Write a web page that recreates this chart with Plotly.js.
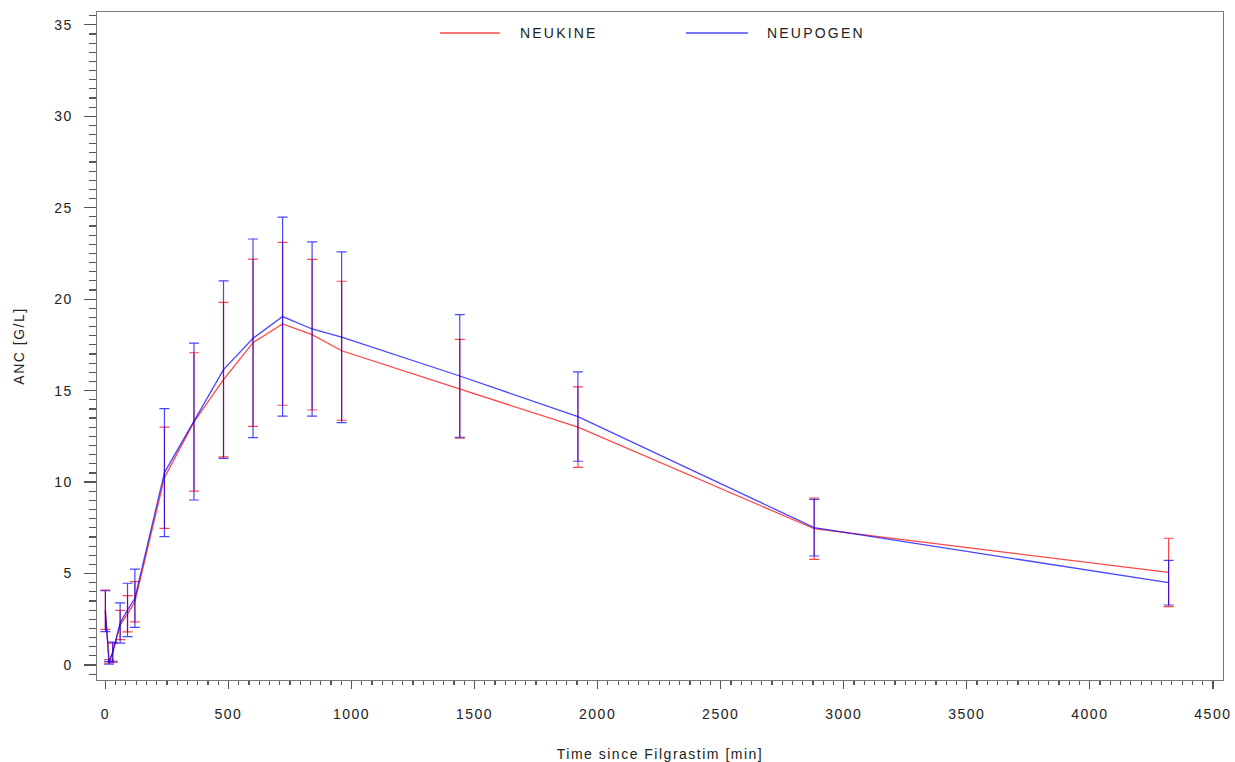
<!DOCTYPE html>
<html>
<head>
<meta charset="utf-8">
<script src="https://cdn.plot.ly/plotly-3.0.1.min.js"></script>
<style>
  html, body { margin: 0; padding: 0; background: #fff; }
  #chart { width: 1235px; height: 762px; }
  .xtick text, .ytick text, .g-xtitle text, .g-ytitle text { letter-spacing: 1.5px; }
  .annotation-text { letter-spacing: 2.2px; }
</style>
</head>
<body>
<div id="chart"></div>
<script>
// Time points (min)
const timeMin = [0, 15, 30, 60, 90, 120, 240, 360, 480, 600, 720, 840, 960, 1440, 1920, 2880, 4320];

// NEUKINE mean ANC [G/L] and SD
const neukineMean = [3.02, 0.2, 0.7, 2.19, 2.8, 3.46, 10.24, 13.29, 15.6, 17.62, 18.65, 18.06, 17.18, 15.1, 13.0, 7.45, 5.06];
const neukineSD   = [1.07, 0.1, 0.5, 0.8, 0.99, 1.1, 2.77, 3.78, 4.22, 4.57, 4.45, 4.12, 3.8, 2.7, 2.2, 1.68, 1.87];

// NEUPOGEN mean ANC [G/L] and SD
const neupogenMean = [2.94, 0.12, 0.7, 2.3, 3.01, 3.65, 10.52, 13.31, 16.15, 17.86, 19.05, 18.37, 17.92, 15.8, 13.58, 7.51, 4.5];
const neupogenSD   = [1.12, 0.08, 0.55, 1.1, 1.46, 1.59, 3.5, 4.29, 4.85, 5.43, 5.44, 4.76, 4.67, 3.35, 2.44, 1.55, 1.22];

const seriesNames = ['NEUKINE', 'NEUPOGEN'];
const xTitle = 'Time since Filgrastim [min]';
const yTitle = 'ANC [G/L]';

const red = 'rgba(255,0,0,0.72)';
const blue = 'rgba(0,0,255,0.72)';
const font = { family: 'Liberation Sans, Arial, sans-serif', size: 14, color: '#222' };

const traces = [
  {
    x: timeMin, y: neukineMean, name: seriesNames[0], type: 'scatter', mode: 'lines',
    line: { color: red, width: 1.3 },
    error_y: { type: 'data', array: neukineSD, visible: true, color: red, thickness: 1.2, width: 5 }
  },
  {
    x: timeMin, y: neupogenMean, name: seriesNames[1], type: 'scatter', mode: 'lines',
    line: { color: blue, width: 1.3 },
    error_y: { type: 'data', array: neupogenSD, visible: true, color: blue, thickness: 1.2, width: 5 }
  }
];

const axisCommon = {
  showgrid: false, zeroline: false, showline: true, linecolor: '#777', linewidth: 1.3,
  mirror: true, ticks: 'outside', tickcolor: '#555', tickwidth: 1.2,
  tickfont: font
};

const layout = {
  width: 1235, height: 762,
  margin: { l: 97, r: 12, t: 12, b: 82 },
  paper_bgcolor: '#fff', plot_bgcolor: '#fff',
  showlegend: false,
  font: font,
  xaxis: Object.assign({}, axisCommon, {
    range: [-34, 4541], dtick: 500, tick0: 0, ticklen: 8,
    ticklabelstandoff: 13,
    minor: { dtick: 500 / 12, tick0: 0, ticklen: 4, ticks: 'outside', tickcolor: '#555', tickwidth: 1.2, showgrid: false },
    title: { text: xTitle, font: font, standoff: 28 }
  }),
  yaxis: Object.assign({}, axisCommon, {
    range: [-0.82, 35.7], dtick: 5, tick0: 0, ticklen: 12,
    ticklabelstandoff: 8,
    minor: { dtick: 0.5, tick0: 0, ticklen: 7, ticks: 'outside', tickcolor: '#555', tickwidth: 1.2, showgrid: false },
    title: { text: yTitle, font: font, standoff: 26 }
  }),
  shapes: [
    { type: 'line', xref: 'paper', yref: 'paper', x0: 0.3046, x1: 0.3579, y0: 0.9686, y1: 0.9686, line: { color: red, width: 1.3 } },
    { type: 'line', xref: 'paper', yref: 'paper', x0: 0.5231, x1: 0.5782, y0: 0.9686, y1: 0.9686, line: { color: blue, width: 1.3 } }
  ],
  annotations: [
    { xref: 'paper', yref: 'paper', x: 0.3739, y: 0.9686, xanchor: 'left', yanchor: 'middle', text: seriesNames[0], showarrow: false, font: font },
    { xref: 'paper', yref: 'paper', x: 0.5933, y: 0.9686, xanchor: 'left', yanchor: 'middle', text: seriesNames[1], showarrow: false, font: font }
  ]
};

Plotly.newPlot('chart', traces, layout, { displayModeBar: false, staticPlot: true });
</script>
</body>
</html>
